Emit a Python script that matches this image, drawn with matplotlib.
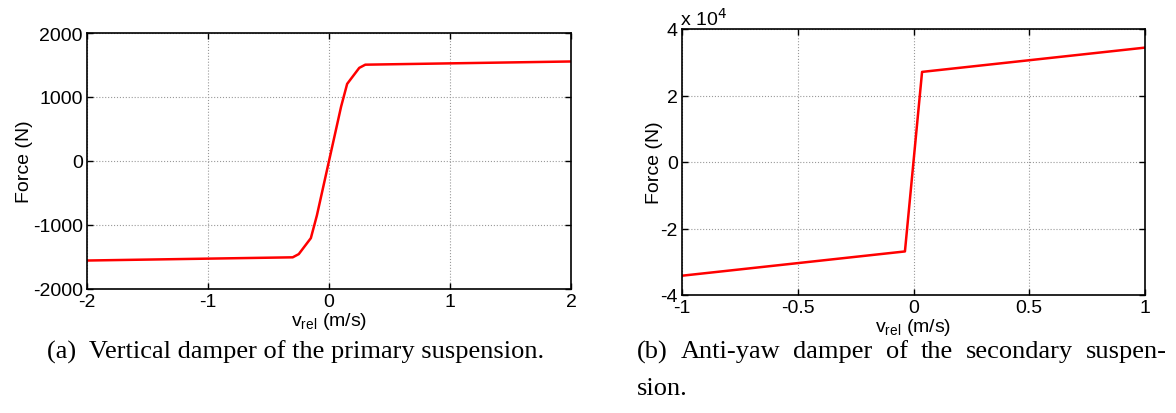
import matplotlib
matplotlib.use("Agg")
from matplotlib import pyplot as plt
from matplotlib.ticker import FuncFormatter

plt.rcParams['font.family'] = ['Liberation Sans', 'DejaVu Sans']
plt.rcParams['axes.unicode_minus'] = False

# (a) primary vertical damper
v_a = [-2.0, -0.3, -0.25, -0.15, -0.1, 0.0, 0.1, 0.15, 0.25, 0.3, 2.0]
f_a = [-1555, -1505, -1455, -1205, -850, 0, 850, 1205, 1455, 1505, 1555]

# (b) anti-yaw damper
v_b = [-1.0, -0.037, 0.037, 1.0]
f_b = [-34200, -26900, 27100, 34400]

xticks_a = [-2, -1, 0, 1, 2]
yticks_a = [-2000, -1000, 0, 1000, 2000]
xticks_b = [-1, -0.5, 0, 0.5, 1]
yticks_b = [-40000, -20000, 0, 20000, 40000]

caption_a = "(a)  Vertical damper of the primary suspension."
caption_b1 = "(b) Anti-yaw damper of the secondary suspen-"
caption_b2 = "sion."

W, H = 1176, 414
fig = plt.figure(figsize=(W / 100, H / 100), dpi=100)
serif = ['Liberation Serif', 'DejaVu Serif']
cap_size = 19


def box(x0, y0, x1, y1):
    return [x0 / W, 1 - y1 / H, (x1 - x0) / W, (y1 - y0) / H]


def style(ax, ypad):
    ax.grid(True, color='#999999', linestyle=':', linewidth=0.8)
    ax.tick_params(direction='in', top=True, right=True, labelsize=14,
                   length=4, width=1, pad=3)
    for s in ax.spines.values():
        s.set_linewidth(1.2)
    ax.set_xlabel(r"v$_\mathregular{rel}$ (m/s)", fontsize=14, labelpad=0)
    ax.set_ylabel("Force (N)", fontsize=14, labelpad=ypad)


ax1 = fig.add_axes(box(87, 34, 571, 290))
ax1.plot(v_a, f_a, color='red', linewidth=1.8)
ax1.set_xlim(-2, 2)
ax1.set_ylim(-2000, 2000)
ax1.set_xticks(xticks_a)
ax1.set_yticks(yticks_a)
style(ax1, 0)

ax2 = fig.add_axes(box(682, 30, 1145, 296))
ax2.plot(v_b, f_b, color='red', linewidth=1.8)
ax2.set_xlim(-1, 1)
ax2.set_ylim(-40000, 40000)
ax2.set_xticks(xticks_b)
ax2.set_yticks(yticks_b)
ax2.xaxis.set_major_formatter(FuncFormatter(lambda v, p: f"{v:g}"))
ax2.yaxis.set_major_formatter(FuncFormatter(lambda v, p: f"{v / 1e4:g}"))
style(ax2, -2)
ax2.text(-0.005, 1.0, r"x 10$^4$", transform=ax2.transAxes, fontsize=14,
         ha='left', va='bottom')

fig.text(47 / W, 1 - 352 / H, caption_a, fontsize=cap_size, family=serif,
         va='center', ha='left')

# justified first line of caption (b) between x=637 and x=1167
words = caption_b1.split()
renderer = fig.canvas.get_renderer()
items = [fig.text(0, 1 - 352 / H, w, fontsize=cap_size, family=serif,
                  va='center', ha='left') for w in words]
widths = [t.get_window_extent(renderer).width for t in items]
gap = (1167 - 637 - sum(widths)) / (len(words) - 1)
x = 637
for t, w in zip(items, widths):
    t.set_x(x / W)
    x += w + gap
fig.text(637 / W, 1 - 389 / H, caption_b2, fontsize=cap_size, family=serif,
         va='center', ha='left')

fig.savefig("out.png", dpi=100)
